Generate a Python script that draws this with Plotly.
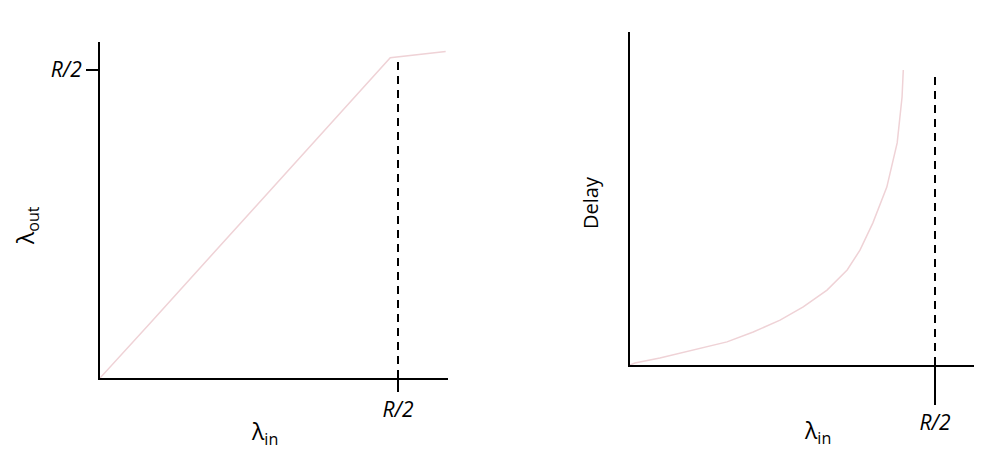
import plotly.graph_objects as go

# Page body has an 8px default margin, so the figure is drawn 8px in from the corner.
OFF = 8
W, H = 982 - OFF, 452 - OFF

# Left panel: throughput
lam_in_thr = [0.0, 0.084, 0.487, 0.58]
lam_out_thr = [0.0, 0.089, 0.52, 0.53]

# Right panel: delay
lam_in_del = [0.0, 0.008, 0.049, 0.103, 0.159, 0.202, 0.246, 0.284, 0.323, 0.356, 0.377, 0.398, 0.421, 0.438, 0.446, 0.448]
delay_vals = [0.0, 0.06, 0.21, 0.45, 0.70, 1.00, 1.36, 1.76, 2.27, 2.88, 3.48, 4.30, 5.39, 6.73, 8.12, 8.94]

capacity = 0.5
tick_labels = ["<i>R/2</i>"]

faint = "#efd2d6"
font_family = "Open Sans, Noto Sans, sans-serif"

def px(x):
    return (x - OFF) / W

def py(y):
    return 1 - (y - OFF) / H

fig = go.Figure()

fig.add_trace(go.Scatter(x=lam_in_thr, y=lam_out_thr, mode="lines",
                         line=dict(color=faint, width=1.5), xaxis="x", yaxis="y",
                         showlegend=False, hoverinfo="skip"))
fig.add_trace(go.Scatter(x=[capacity, capacity], y=[0, 0.52], mode="lines",
                         line=dict(color="black", width=2, dash="8px,6px"), xaxis="x", yaxis="y",
                         showlegend=False, hoverinfo="skip"))

fig.add_trace(go.Scatter(x=lam_in_del, y=delay_vals, mode="lines",
                         line=dict(color=faint, width=1.5), xaxis="x2", yaxis="y2",
                         showlegend=False, hoverinfo="skip"))
fig.add_trace(go.Scatter(x=[capacity, capacity], y=[0, 8.79], mode="lines",
                         line=dict(color="black", width=2, dash="8px,6px"), xaxis="x2", yaxis="y2",
                         showlegend=False, hoverinfo="skip"))

axis_common = dict(showgrid=False, zeroline=False, showline=True, linecolor="black",
                   linewidth=2, tickcolor="black", tickwidth=2,
                   tickfont=dict(family=font_family, size=21, color="black"))

fig.update_layout(
    width=W, height=H,
    margin=dict(l=0, r=0, t=0, b=0),
    paper_bgcolor="white", plot_bgcolor="white",
    xaxis=dict(domain=[px(100), px(448)], range=[0, (448 - 100) / 596],
               tickvals=[capacity], ticktext=tick_labels, ticks="outside", ticklen=12,
               anchor="y", **axis_common),
    yaxis=dict(domain=[py(378), py(42)], range=[0, (378 - 42) / 616],
               tickvals=[capacity], ticktext=tick_labels, ticks="outside", ticklen=12,
               anchor="x", **axis_common),
    xaxis2=dict(domain=[px(630), 1.0], range=[0, (982 - 630) / 610],
                tickvals=[capacity], ticktext=tick_labels, ticks="outside", ticklen=38,
                anchor="y2", **axis_common),
    yaxis2=dict(domain=[py(365), py(32)], range=[0, (365 - 32) / 33],
                tickvals=[], ticks="", anchor="x2", **axis_common),
)

title_font = dict(family=font_family, size=23, color="black")
common_anno = dict(xref="paper", yref="paper", showarrow=False,
                   xanchor="center", yanchor="middle")
fig.add_annotation(x=px(264), y=py(432), text="λ<sub>in</sub>", font=title_font, **common_anno)
fig.add_annotation(x=px(817), y=py(431), text="λ<sub>in</sub>", font=title_font, **common_anno)
fig.add_annotation(x=px(26), y=py(226), text="λ<sub>out</sub>", textangle=-90,
                   font=title_font, **common_anno)
fig.add_annotation(x=px(590), y=py(203), text="Delay", textangle=-90,
                   font=dict(family=font_family, size=20, color="black"), **common_anno)

fig.write_html("out.html")
